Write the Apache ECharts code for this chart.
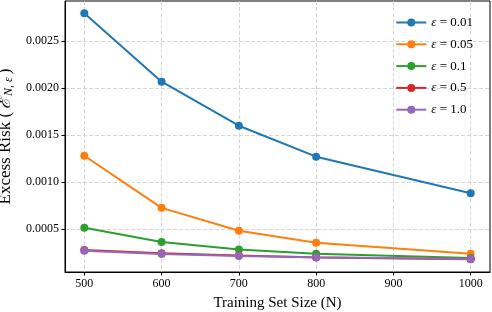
<!DOCTYPE html>
<html><head><meta charset="utf-8">
<script src="https://cdn.jsdelivr.net/npm/echarts@6/dist/echarts.min.js"></script>
<style>html,body{margin:0;padding:0;background:#fff}#c{width:492px;height:312px}</style>
</head><body><div id="c"></div>
<script>
const sizes = [500, 600, 700, 800, 1000];
const epsLabels = ['0.01', '0.05', '0.1', '0.5', '1.0'];
const risk001 = [0.00280, 0.00207, 0.00160, 0.00127, 0.00088];
const risk005 = [0.00128, 0.000724, 0.00048, 0.000352, 0.000235];
const risk01  = [0.000512, 0.00036, 0.00028, 0.000235, 0.00019];
const risk05  = [0.000275, 0.00024, 0.000215, 0.000195, 0.000175];
const risk10  = [0.000267, 0.000232, 0.00021, 0.000196, 0.000179];
const xTicks = [500, 600, 700, 800, 900, 1000];
const yTicks = [0.0005, 0.0010, 0.0015, 0.0020, 0.0025];
const colors = ['#1f77b4', '#ff7f0e', '#2ca02c', '#d62728', '#9467bd'];
const allRisk = [risk001, risk005, risk01, risk05, risk10];

const FONT = '"Liberation Serif", "DejaVu Serif", serif';
const chart = echarts.init(document.getElementById('c'), null, {renderer: 'canvas'});
const series = allRisk.map((arr, i) => ({
  name: 'ε = ' + epsLabels[i],
  type: 'line',
  data: sizes.map((s, j) => [s, arr[j]]),
  symbol: 'circle',
  symbolSize: 8,
  lineStyle: {width: 2, color: colors[i]},
  itemStyle: {color: colors[i]},
  z: 2 + i
}));
chart.setOption({
  animation: false,
  textStyle: {fontFamily: FONT},
  grid: {left: 65, right: 2, top: 1, bottom: 40, show: true, borderColor: '#000', borderWidth: 1,
         outerBoundsMode: 'none', containLabel: false},
  legend: {
    orient: 'vertical', right: 14, top: 11, itemWidth: 30, itemHeight: 10, itemGap: 8.8,
    formatter: function (n) { return '{i|ε} = ' + n.split('= ')[1]; },
    textStyle: {fontFamily: FONT, fontSize: 13, color: '#000',
      rich: {i: {fontFamily: FONT, fontStyle: 'italic', fontSize: 13}}},
    data: series.map(s => s.name)
  },
  xAxis: {
    type: 'value', min: 475, max: 1025,
    name: 'Training Set Size (N)', nameLocation: 'middle', nameGap: 24,
    nameTextStyle: {fontFamily: FONT, fontSize: 15, color: '#000'},
    axisLine: {show: true, onZero: false, lineStyle: {color: '#000'}},
    axisTick: {show: true, length: 3.5, customValues: xTicks, lineStyle: {color: '#000'}},
    axisLabel: {customValues: xTicks, margin: 6, fontFamily: FONT, fontSize: 12, color: '#000',
      formatter: v => String(v)},
    splitLine: {show: true, lineStyle: {color: '#cccccc', type: [4, 2], width: 0.8}}
  },
  yAxis: {
    type: 'value', min: 0.00004, max: 0.00293,
    name: '{t|Excess Risk (}{e|ℰ}{s|N, ε}{t|)}', nameLocation: 'middle', nameGap: 41, nameRotate: 90,
    nameTextStyle: {fontFamily: FONT, fontSize: 17, color: '#000',
      rich: {t: {fontFamily: FONT, fontSize: 17, color: '#000'},
             e: {fontFamily: FONT, fontSize: 18, fontStyle: 'italic', color: '#000', padding: [0, 2, 0, 3]},
             s: {fontFamily: FONT, fontSize: 12, fontStyle: 'italic', color: '#000', padding: [8, 3, 0, 0]}}},
    axisLine: {show: true, lineStyle: {color: '#000'}},
    axisTick: {show: true, length: 3.5, customValues: yTicks, lineStyle: {color: '#000'}},
    axisLabel: {customValues: yTicks, margin: 6, fontFamily: FONT, fontSize: 12, color: '#000',
      formatter: v => v.toFixed(4)},
    splitLine: {show: true, lineStyle: {color: '#cccccc', type: [4, 2], width: 0.8}}
  },
  series: series
});
</script></body></html>
